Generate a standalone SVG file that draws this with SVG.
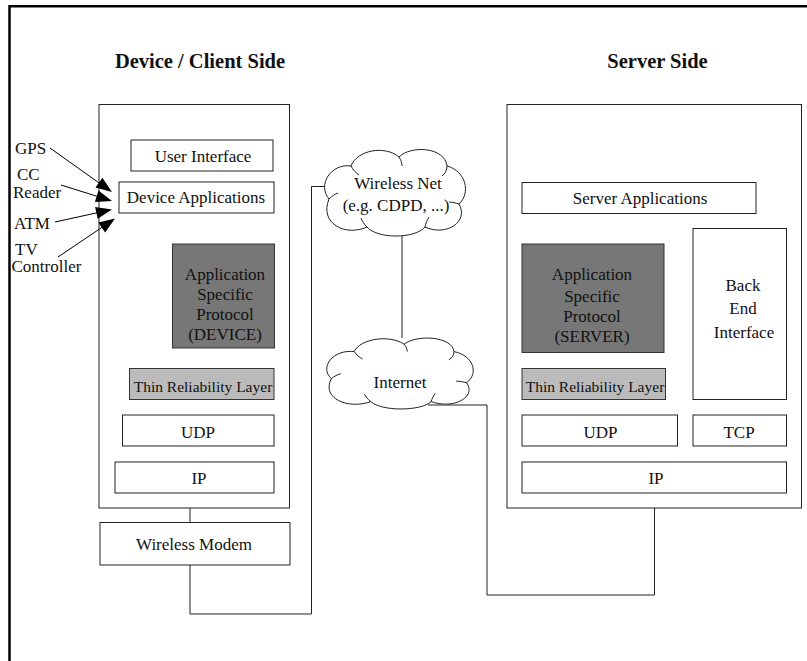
<svg xmlns="http://www.w3.org/2000/svg" width="807" height="661" viewBox="0 0 807 661">
<style>
text{font-family:"Liberation Serif","Times New Roman",serif;font-size:17px;fill:#111}
.t{font-weight:bold;font-size:20.5px;text-anchor:middle}
.c{text-anchor:middle}
.s{font-size:15.5px}
.box{fill:#fff;stroke:#222;stroke-width:1}
.outer{fill:none;stroke:#222;stroke-width:1}
.dark{fill:#777;stroke:#333;stroke-width:1}
.light{fill:#bbb;stroke:#333;stroke-width:1}
.conn{fill:none;stroke:#222;stroke-width:1}
.cloud{fill:#fff;stroke:#222;stroke-width:1}
.hook{fill:none;stroke:#222;stroke-width:1}
.arr{fill:none;stroke:#000;stroke-width:1}
.head{fill:#000;stroke:none}
</style>
<defs>
<g id="cloudshape">
<path class="cloud" vector-effect="non-scaling-stroke" d="M8,52 C-4,38 10,16 30,19 C36,3 64,-2 78,10 C90,-2 124,0 126,19 C145,24 150,46 138,57 C148,74 126,90 104,80 C94,92 56,92 46,80 C24,90 -2,76 8,52 Z"/>
<path class="hook" vector-effect="non-scaling-stroke" d="M30,19 C32,23 35,26 38,28 M78,10 C80,13 81,16 81,19 M126,19 C126,23 124,27 121,29 M138,57 C135,56 131,55 128,55 M104,80 C105,76 106,73 108,70 M46,80 C43,77 41,74 40,71 M8,52 C11,49 14,47 17,46"/>
</g>
</defs>

<path d="M9.5,661 V6.2 H807" fill="none" stroke="#000" stroke-width="2.5"/>

<text class="t" x="200" y="68">Device / Client Side</text>
<text class="t" x="657.5" y="68">Server Side</text>

<g id="device-side">
<rect class="outer" x="99" y="104.5" width="190.5" height="403.5"/>
</g>
<g id="server-side">
<rect class="outer" x="507" y="104.5" width="294.5" height="403.5"/>
</g>

<g id="connectors">
<path class="conn" d="M190,508 V522"/>
<path class="conn" d="M190,565 V614 H311.5 V186.5 H350"/>
<path class="conn" d="M402,236 V338"/>
<path class="conn" d="M428,405 H487 V595 H654.5 V508"/>
<line class="arr" x1="50" y1="148" x2="100" y2="183.6"/>
<polygon class="head" points="112,192 95.5,187.6 102.4,177.8"/>
<line class="arr" x1="61" y1="185" x2="97" y2="196.3"/>
<polygon class="head" points="112,201 94.9,201.9 98.5,190.5"/>
<line class="arr" x1="55" y1="222" x2="97" y2="212.8"/>
<polygon class="head" points="112,209.5 97.7,218.8 95.1,207.1"/>
<line class="arr" x1="58" y1="257" x2="102" y2="227.3"/>
<polygon class="head" points="115,218.5 105.1,232.4 98.4,222.5"/>
</g>

<g id="user-interface"><rect class="box" x="131" y="140" width="142" height="31"/><text class="c" x="203" y="162">User Interface</text></g>
<g id="device-applications"><rect class="box" x="119" y="182" width="155" height="31"/><text class="c" x="196" y="203">Device Applications</text></g>
<g id="asp-device"><rect class="dark" x="172.5" y="244" width="102" height="104"/>
<text class="c" x="225" y="280">Application</text><text class="c" x="225" y="300">Specific</text><text class="c" x="225" y="320">Protocol</text><text class="c" x="225" y="340">(DEVICE)</text></g>
<g id="thin-device"><rect class="light" x="129.5" y="368.5" width="144.5" height="31"/><text class="c s" x="203" y="391.5">Thin Reliability Layer</text></g>
<g id="udp-device"><rect class="box" x="122.5" y="415" width="151.5" height="31"/><text class="c" x="198" y="438">UDP</text></g>
<g id="ip-device"><rect class="box" x="115" y="462" width="159" height="31"/><text class="c" x="199" y="484">IP</text></g>
<g id="wireless-modem"><rect class="box" x="100" y="522.5" width="190" height="42.5"/><text class="c" x="194" y="550">Wireless Modem</text></g>

<g id="gps"><text x="15" y="153.5">GPS</text></g>
<g id="cc-reader"><text x="17" y="180">CC</text><text x="13" y="198">Reader</text></g>
<g id="atm"><text x="14" y="229">ATM</text></g>
<g id="tv-controller"><text x="15" y="254.5">TV</text><text x="11.5" y="272">Controller</text></g>

<g id="wireless-net">
<use href="#cloudshape" transform="translate(321,147)"/>
<text class="c" x="398" y="189">Wireless Net</text>
<text class="c" x="396" y="211">(e.g. CDPD, ...)</text>
</g>
<g id="internet">
<use href="#cloudshape" transform="translate(323,336) scale(1.04,0.82)"/>
<text class="c" x="400" y="388">Internet</text>
</g>

<g id="server-applications"><rect class="box" x="522" y="182.5" width="234" height="31"/><text class="c" x="640" y="204">Server Applications</text></g>
<g id="asp-server"><rect class="dark" x="522" y="244" width="142" height="108.5"/>
<text class="c" x="592" y="280">Application</text><text class="c" x="592" y="301.5">Specific</text><text class="c" x="592" y="322">Protocol</text><text class="c" x="592" y="342">(SERVER)</text></g>
<g id="back-end-interface"><rect class="box" x="693" y="228.5" width="93.5" height="171"/>
<text class="c" x="743" y="290.5">Back</text><text class="c" x="743" y="314">End</text><text class="c" x="744" y="337.5">Interface</text></g>
<g id="thin-server"><rect class="light" x="522" y="368.5" width="143.5" height="31"/><text class="c s" x="595" y="391.5">Thin Reliability Layer</text></g>
<g id="udp-server"><rect class="box" x="522" y="415" width="155.5" height="31"/><text class="c" x="600.5" y="437.5">UDP</text></g>
<g id="tcp"><rect class="box" x="693" y="415" width="93.5" height="31"/><text class="c" x="739" y="437.5">TCP</text></g>
<g id="ip-server"><rect class="box" x="522" y="462" width="264.5" height="31"/><text class="c" x="656" y="483.5">IP</text></g>
</svg>
